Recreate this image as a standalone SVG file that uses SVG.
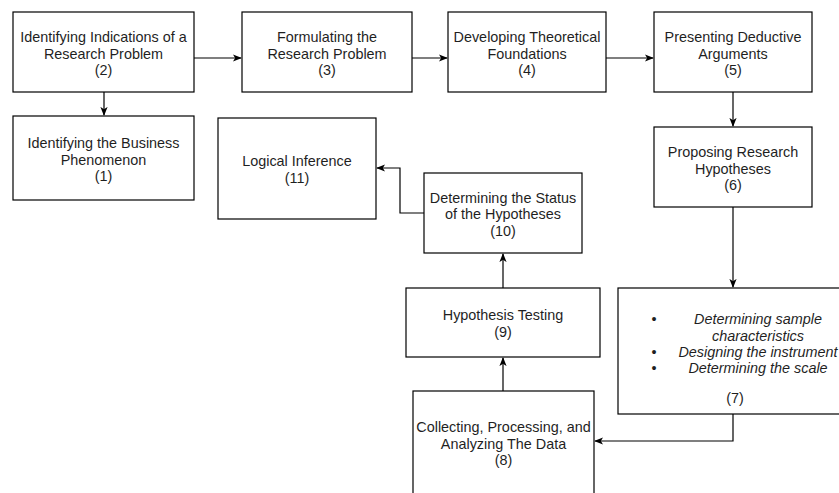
<svg xmlns="http://www.w3.org/2000/svg" width="839" height="493" viewBox="0 0 839 493">
<defs>
<style>
.box{fill:#ffffff;stroke:#000000;stroke-width:1.2}
.t{font-family:"Liberation Sans",Arial,sans-serif;font-size:14.4px;fill:#1f1f1f;text-anchor:middle}
.it{font-style:italic}
.c{fill:none;stroke:#000000;stroke-width:1.2}
</style>
<marker id="arr" viewBox="0 0 10 10" refX="9" refY="5" markerWidth="9" markerHeight="9" markerUnits="userSpaceOnUse" orient="auto">
<path d="M0,1 L10,5 L0,9 L2.5,5 z" fill="#000000"/>
</marker>
</defs>
<rect width="839" height="493" fill="#ffffff"/>
<g id="connectors">
<path class="c" d="M194,58 H241" marker-end="url(#arr)"/>
<path class="c" d="M412,58 H447" marker-end="url(#arr)"/>
<path class="c" d="M606,58 H653" marker-end="url(#arr)"/>
<path class="c" d="M104,92 V115" marker-end="url(#arr)"/>
<path class="c" d="M733,92 V126" marker-end="url(#arr)"/>
<path class="c" d="M733,207 V287" marker-end="url(#arr)"/>
<path class="c" d="M733,414 V441 H595" marker-end="url(#arr)"/>
<path class="c" d="M503,391 V358" marker-end="url(#arr)"/>
<path class="c" d="M503,288 V254" marker-end="url(#arr)"/>
<path class="c" d="M424,213 H400 V168 H377" marker-end="url(#arr)"/>
</g>
<g id="node2">
<rect class="box" x="13" y="12" width="181" height="80"/>
<text class="t" x="103.5" y="42">Identifying Indications of a</text>
<text class="t" x="103.5" y="58.5">Research Problem</text>
<text class="t" x="103.5" y="75">(2)</text>
</g>
<g id="node3">
<rect class="box" x="242" y="12" width="170" height="80"/>
<text class="t" x="327" y="42">Formulating the</text>
<text class="t" x="327" y="58.5">Research Problem</text>
<text class="t" x="327" y="75">(3)</text>
</g>
<g id="node4">
<rect class="box" x="448" y="12" width="158" height="80"/>
<text class="t" x="527" y="42">Developing Theoretical</text>
<text class="t" x="527" y="58.5">Foundations</text>
<text class="t" x="527" y="75">(4)</text>
</g>
<g id="node5">
<rect class="box" x="654" y="12" width="158" height="80"/>
<text class="t" x="733" y="42">Presenting Deductive</text>
<text class="t" x="733" y="58.5">Arguments</text>
<text class="t" x="733" y="75">(5)</text>
</g>
<g id="node1">
<rect class="box" x="13" y="116" width="181" height="84"/>
<text class="t" x="103.5" y="148">Identifying the Business</text>
<text class="t" x="103.5" y="164.5">Phenomenon</text>
<text class="t" x="103.5" y="181">(1)</text>
</g>
<g id="node6">
<rect class="box" x="654" y="127" width="158" height="80"/>
<text class="t" x="733" y="157">Proposing Research</text>
<text class="t" x="733" y="173.5">Hypotheses</text>
<text class="t" x="733" y="190">(6)</text>
</g>
<g id="node11">
<rect class="box" x="218" y="118" width="158" height="101"/>
<text class="t" x="297" y="166">Logical Inference</text>
<text class="t" x="297" y="182.5">(11)</text>
</g>
<g id="node10">
<rect class="box" x="424" y="173" width="158" height="80"/>
<text class="t" x="503" y="203">Determining the Status</text>
<text class="t" x="503" y="219">of the Hypotheses</text>
<text class="t" x="503" y="235.5">(10)</text>
</g>
<g id="node9">
<rect class="box" x="406" y="288" width="194" height="69"/>
<text class="t" x="503" y="320">Hypothesis Testing</text>
<text class="t" x="503" y="336.5">(9)</text>
</g>
<g id="node7">
<rect class="box" x="618" y="288" width="232" height="126"/>
<text class="t" x="654" y="324">•</text>
<text class="t" x="654" y="357">•</text>
<text class="t" x="654" y="373">•</text>
<text class="t it" x="758" y="324">Determining sample</text>
<text class="t it" x="758" y="340.5">characteristics</text>
<text class="t it" x="758" y="357">Designing the instrument</text>
<text class="t it" x="758" y="373">Determining the scale</text>
<text class="t" x="735" y="403">(7)</text>
</g>
<g id="node8">
<rect class="box" x="413" y="391" width="181" height="110"/>
<text class="t" x="503.5" y="432">Collecting, Processing, and</text>
<text class="t" x="503.5" y="448.5">Analyzing The Data</text>
<text class="t" x="503.5" y="465">(8)</text>
</g>
</svg>
